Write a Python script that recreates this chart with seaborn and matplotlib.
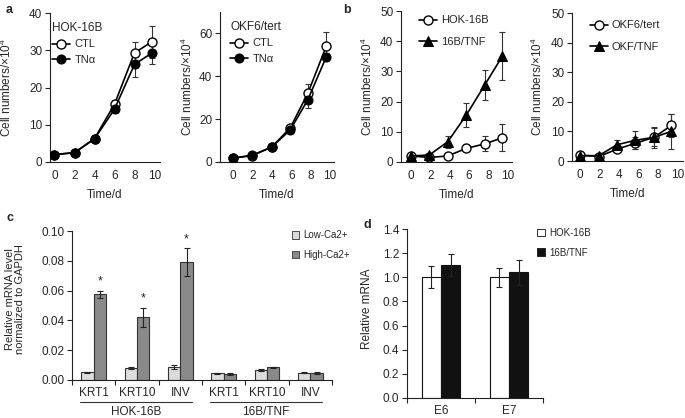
import numpy as np
import pandas as pd
import matplotlib
matplotlib.use("Agg")
import matplotlib.pyplot as plt
from matplotlib.patches import Patch
import seaborn as sns

# ---- data ----
# panel a (growth curves, HOK-16B and OKF6/tert, +/- TNF-alpha)
days_a1 = [0, 2, 4, 6, 8, 9.7]
hok_ctl = [2.0, 2.5, 6.3, 15.5, 29.3, 32.2]
hok_ctl_err = [0.3, 0.3, 0.5, 1.2, 3.0, 4.2]
hok_tna = [2.0, 2.5, 6.2, 14.2, 26.2, 29.2]
hok_tna_err = [0.3, 0.3, 0.5, 1.0, 3.5, 3.0]

days_a2 = [0, 2, 4, 5.9, 7.7, 9.6]
okf_ctl = [1.8, 3.0, 7.0, 16.0, 32.0, 54.0]
okf_ctl_err = [0.5, 0.5, 0.6, 1.5, 4.5, 6.5]
okf_tna = [1.8, 3.2, 7.0, 15.0, 29.0, 49.0]
okf_tna_err = [0.5, 0.5, 0.6, 1.2, 4.0, 2.0]

# panel b (stable TNF lines)
days_b = [0, 1.9, 3.8, 5.7, 7.6, 9.4]
hok16b = [2.0, 1.5, 2.0, 4.5, 6.0, 8.0]
hok16b_err = [0.5, 0.3, 0.3, 1.0, 2.5, 4.5]
tnf16b = [2.0, 2.3, 6.7, 15.5, 25.5, 35.0]
tnf16b_err = [0.5, 0.5, 2.0, 4.0, 5.0, 8.0]

okf6 = [2.0, 1.5, 4.0, 6.0, 8.0, 12.0]
okf6_err = [0.5, 0.3, 0.5, 2.0, 3.0, 4.0]
okftnf = [1.8, 1.8, 5.5, 7.0, 8.0, 10.0]
okftnf_err = [0.5, 0.5, 1.5, 3.0, 3.5, 6.0]

# panel c (differentiation markers)
genes = ["KRT1", "KRT10", "INV", "KRT1", "KRT10", "INV"]
cell_groups = ["HOK-16B", "HOK-16B", "HOK-16B", "16B/TNF", "16B/TNF", "16B/TNF"]
low_ca = [0.0052, 0.0082, 0.0088, 0.0045, 0.0068, 0.0050]
low_ca_err = [0.0003, 0.0007, 0.0012, 0.0004, 0.0006, 0.0002]
high_ca = [0.0575, 0.0420, 0.0790, 0.0040, 0.0085, 0.0048]
high_ca_err = [0.0025, 0.0065, 0.0095, 0.0004, 0.0004, 0.0006]
signif = [True, True, True, False, False, False]

# panel d (HPV E6/E7)
hpv_genes = ["E6", "E7"]
hok_mrna = [1.00, 1.00]
hok_mrna_err = [0.09, 0.08]
tnf_mrna = [1.10, 1.04]
tnf_mrna_err = [0.09, 0.10]

sns.set_style("ticks")
plt.rcParams["font.family"] = ["Liberation Sans", "DejaVu Sans"]
plt.rcParams["mathtext.default"] = "regular"
plt.rcParams["font.size"] = 8.5
plt.rcParams["axes.linewidth"] = 0.8
plt.rcParams["axes.edgecolor"] = "#222222"

fig = plt.figure(figsize=(6.85, 4.18), dpi=100)


def add_ax(l, t, r, b):
    return fig.add_axes([l / 685, 1 - b / 418, (r - l) / 685, (b - t) / 418])


def growth_panel(ax, days, s1, e1, s2, e2, labels, m2, ymax, xlim, title=None,
                 leg_anchor=(0.0, 1.0), spacing=0.5, ylab_x=-0.3):
    ax.errorbar(days, s1, yerr=e1, fmt="none", ecolor="#333333", elinewidth=0.8,
                capsize=2.5, capthick=0.8, zorder=1)
    ax.errorbar(days, s2, yerr=e2, fmt="none", ecolor="#333333", elinewidth=0.8,
                capsize=2.5, capthick=0.8, zorder=1)
    sns.lineplot(x=days, y=s1, ax=ax, color="k", lw=1.2, marker="o", ms=6.5,
                 markerfacecolor="white", markeredgecolor="k", mew=1.0,
                 label=labels[0], zorder=3)
    sns.lineplot(x=days, y=s2, ax=ax, color="k", lw=1.2, marker=m2, ms=6.5,
                 markerfacecolor="k", markeredgecolor="k", label=labels[1], zorder=3)
    ax.set_xlim(*xlim)
    ax.set_ylim(0, ymax)
    ax.set_xticks([0, 2, 4, 6, 8, 10])
    ax.tick_params(axis="x", length=0, pad=6, labelsize=8.5)
    ax.tick_params(axis="y", length=3.5, width=0.8, pad=2, labelsize=8.5)
    ax.set_xlabel("Time/d", fontsize=8.5)
    ax.set_ylabel("Cell numbers/×10$^4$", fontsize=8.5)
    ax.xaxis.set_label_coords(0.5, -0.18)
    ax.yaxis.set_label_coords(ylab_x, 0.5)
    sns.despine(ax=ax)
    leg = ax.legend(loc="upper left", bbox_to_anchor=leg_anchor, frameon=False,
                    fontsize=8, title=title, title_fontsize=8.5, handlelength=1.6,
                    handletextpad=0.4, labelspacing=spacing, borderaxespad=0,
                    alignment="left")
    return leg


a1 = add_ax(50, 13, 160, 162)
a2 = add_ax(220, 12, 334, 162)
b1 = add_ax(401, 11, 512, 162)
b2 = add_ax(572, 13, 683, 161)
ac = add_ax(72, 231, 332, 380)
ad = add_ax(407, 229, 543, 398)

growth_panel(a1, days_a1, hok_ctl, hok_ctl_err, hok_tna, hok_tna_err,
             ["CTL", "TNα"], "o", 40, (-0.45, 10.55), title="HOK-16B",
             leg_anchor=(-0.02, 0.97), ylab_x=-0.33)
growth_panel(a2, days_a2, okf_ctl, okf_ctl_err, okf_tna, okf_tna_err,
             ["CTL", "TNα"], "o", 70, (-1.34, 10.4), title="OKF6/tert",
             leg_anchor=(0.05, 0.97), ylab_x=-0.22)
growth_panel(b1, days_b, hok16b, hok16b_err, tnf16b, tnf16b_err,
             ["HOK-16B", "16B/TNF"], "^", 50, (-1.0, 10.4),
             leg_anchor=(0.12, 1.0), spacing=1.0, ylab_x=-0.235)
growth_panel(b2, days_b, okf6, okf6_err, okftnf, okftnf_err,
             ["OKF6/tert", "OKF/TNF"], "^", 50, (-0.85, 10.6),
             leg_anchor=(0.12, 0.98), spacing=1.0, ylab_x=-0.24)

# ---- panel c ----
keys = [g + " " + k for g, k in zip(cell_groups, genes)]
df_c = pd.DataFrame({
    "key": keys * 2,
    "value": low_ca + high_ca,
    "cond": ["Low-Ca2+"] * 6 + ["High-Ca2+"] * 6,
})
c_cols = ["#dcdcdc", "#8a8a8a"]
sns.barplot(data=df_c, x="key", y="value", hue="cond", palette=c_cols, width=0.57,
            edgecolor="#333333", linewidth=0.8, errorbar=None, legend=False,
            saturation=1, ax=ac)
for cont, errs in zip(ac.containers, [low_ca_err, high_ca_err]):
    xs = [b.get_x() + b.get_width() / 2 for b in cont]
    ys = [b.get_height() for b in cont]
    ac.errorbar(xs, ys, yerr=errs, fmt="none", ecolor="#222222", elinewidth=0.8,
                capsize=2, capthick=0.8)
    if errs is high_ca_err:
        for x, y, e, s in zip(xs, ys, errs, signif):
            if s:
                ac.text(x, y + e + 0.002, "*", ha="center", va="bottom", fontsize=9)
ac.set_xlim(-0.5, 5.5)
ac.set_ylim(0, 0.10)
ac.set_yticks(np.arange(0, 0.101, 0.02))
ac.yaxis.set_major_formatter(matplotlib.ticker.FormatStrFormatter("%.2f"))
ac.set_xticks(range(6))
ac.set_xticklabels(genes)
ac.set_xticks(np.arange(-0.5, 6, 1), minor=True)
ac.tick_params(axis="x", which="major", length=0, pad=5, labelsize=8.5)
ac.tick_params(axis="x", which="minor", length=3.5, width=0.8)
ac.tick_params(axis="y", length=3.5, width=0.8, pad=2, labelsize=8.5)
ac.set_xlabel("")
ac.set_ylabel("Relative mRNA level\nnormalized to GAPDH", fontsize=8, linespacing=1.0)
ac.yaxis.set_label_coords(-0.18, 0.54)
sns.despine(ax=ac)
tr = ac.get_xaxis_transform()
for gi, gname in enumerate(["HOK-16B", "16B/TNF"]):
    x0 = gi * 3 - 0.32
    x1 = gi * 3 + 2.27
    ac.plot([x0, x1], [-0.148, -0.148], color="#333333", lw=0.8, transform=tr,
            clip_on=False)
    ac.text((x0 + x1) / 2, -0.215, gname, transform=tr, ha="center", va="center",
            fontsize=8.5)
ac.legend(handles=[Patch(facecolor=c_cols[0], edgecolor="#333333", lw=0.6, label="Low-Ca2+"),
                   Patch(facecolor=c_cols[1], edgecolor="#333333", lw=0.6, label="High-Ca2+")],
          loc="upper left", bbox_to_anchor=(0.83, 1.03), frameon=False, fontsize=7,
          handlelength=0.8, handleheight=0.8, handletextpad=0.4, labelspacing=1.0,
          borderaxespad=0)

# ---- panel d ----
df_d = pd.DataFrame({
    "gene": hpv_genes * 2,
    "value": hok_mrna + tnf_mrna,
    "cell": ["HOK-16B"] * 2 + ["16B/TNF"] * 2,
})
d_cols = ["white", "#111111"]
sns.barplot(data=df_d, x="gene", y="value", hue="cell", palette=d_cols, width=0.56,
            edgecolor="#111111", linewidth=0.8, errorbar=None, legend=False,
            saturation=1, ax=ad)
for cont, errs in zip(ad.containers, [hok_mrna_err, tnf_mrna_err]):
    xs = [b.get_x() + b.get_width() / 2 for b in cont]
    ys = [b.get_height() for b in cont]
    ad.errorbar(xs, ys, yerr=errs, fmt="none", ecolor="#222222", elinewidth=0.8,
                capsize=2.5, capthick=0.8)
ad.set_xlim(-0.5, 1.5)
ad.set_ylim(0, 1.4)
ad.set_yticks(np.arange(0, 1.41, 0.2))
ad.yaxis.set_major_formatter(matplotlib.ticker.FormatStrFormatter("%.1f"))
ad.set_xticks(np.arange(-0.5, 2, 1), minor=True)
ad.tick_params(axis="x", which="major", length=0, pad=5, labelsize=8.5)
ad.tick_params(axis="x", which="minor", length=3.5, width=0.8)
ad.tick_params(axis="y", length=3.5, width=0.8, pad=2, labelsize=8.5)
ad.set_xlabel("")
ad.set_ylabel("Relative mRNA", fontsize=8.5)
ad.yaxis.set_label_coords(-0.25, 0.53)
sns.despine(ax=ad)
ad.legend(handles=[Patch(facecolor=d_cols[0], edgecolor="#111111", lw=0.6, label="HOK-16B"),
                   Patch(facecolor=d_cols[1], edgecolor="#111111", lw=0.6, label="16B/TNF")],
          loc="upper left", bbox_to_anchor=(0.93, 1.03), frameon=False, fontsize=7,
          handlelength=0.8, handleheight=0.8, handletextpad=0.4, labelspacing=1.0,
          borderaxespad=0)

# panel letters
for lab, x, y in [("a", 6, 10), ("b", 343, 10), ("c", 6, 218), ("d", 364, 225)]:
    fig.text(x / 685, 1 - y / 418, lab, fontsize=9, fontweight="bold", va="center")

fig.savefig("out.png", dpi=100)
